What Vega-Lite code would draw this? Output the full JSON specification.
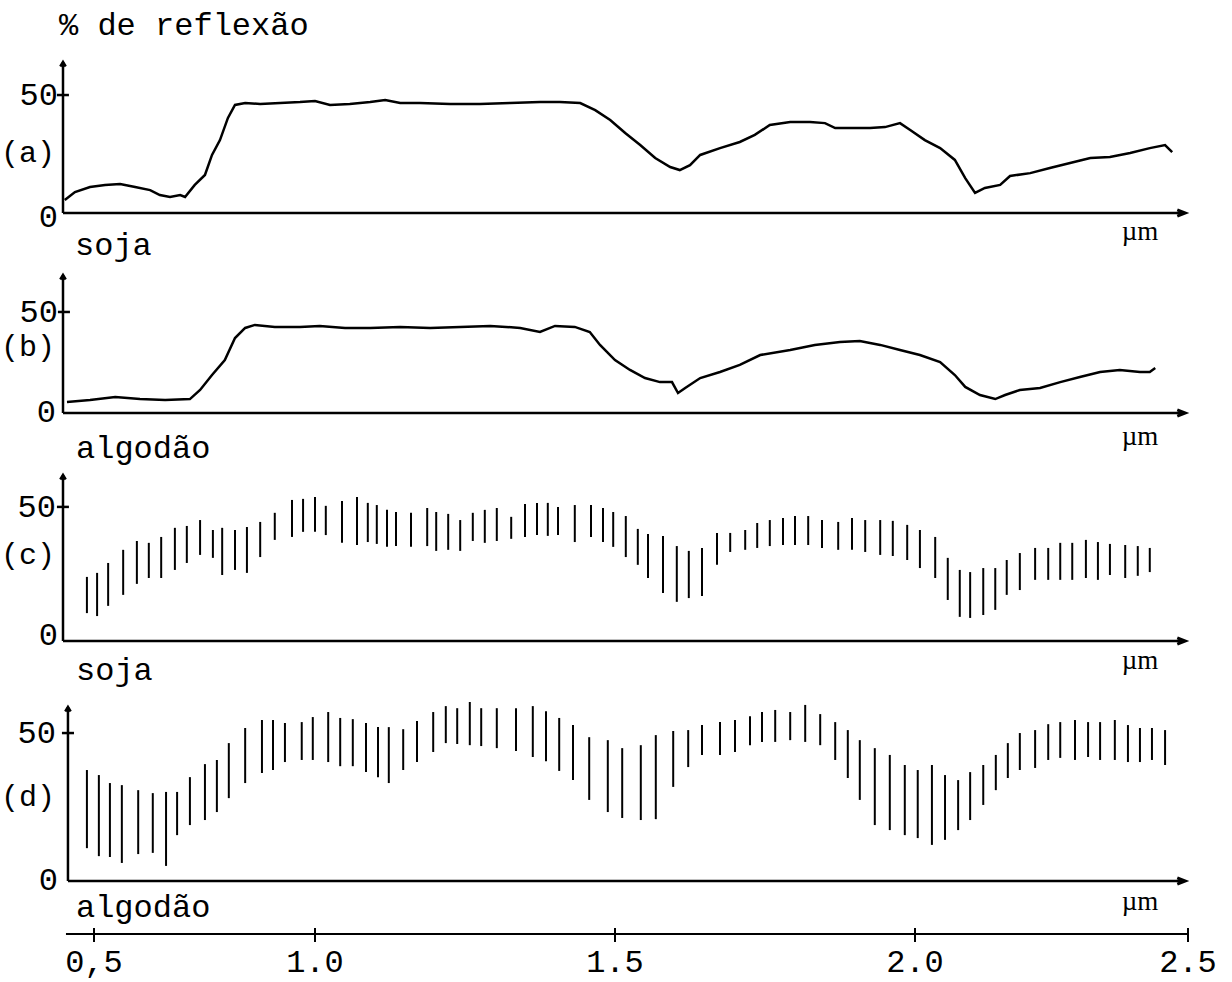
{
"$schema": "https://vega.github.io/schema/vega-lite/v6.json",
"width": 1232, "height": 982,
"autosize": {"type": "none"},
"padding": 0,
"background": "white",
"config": {"view": {"stroke": null}, "text": {"font": "Liberation Mono", "fontSize": 32, "color": "black", "baseline": "middle"}, "rule": {"color": "black"}},
"datasets": {
"a": [{"x":0.434,"r":5.5},{"x":0.457,"r":8.9},{"x":0.491,"r":11.0},{"x":0.525,"r":11.9},{"x":0.559,"r":12.3},{"x":0.593,"r":11.0},{"x":0.627,"r":9.7},{"x":0.649,"r":7.6},{"x":0.672,"r":6.8},{"x":0.695,"r":7.6},{"x":0.706,"r":6.8},{"x":0.728,"r":11.9},{"x":0.751,"r":16.1},{"x":0.767,"r":24.6},{"x":0.785,"r":30.9},{"x":0.803,"r":40.3},{"x":0.819,"r":45.8},{"x":0.842,"r":46.6},{"x":0.876,"r":46.2},{"x":0.921,"r":46.6},{"x":0.966,"r":47.0},{"x":1.0,"r":47.5},{"x":1.025,"r":45.8},{"x":1.058,"r":46.2},{"x":1.092,"r":47.0},{"x":1.117,"r":47.9},{"x":1.142,"r":46.6},{"x":1.175,"r":46.6},{"x":1.225,"r":46.2},{"x":1.275,"r":46.2},{"x":1.325,"r":46.6},{"x":1.375,"r":47.0},{"x":1.408,"r":47.0},{"x":1.442,"r":46.6},{"x":1.467,"r":43.6},{"x":1.492,"r":39.4},{"x":1.517,"r":33.9},{"x":1.542,"r":28.8},{"x":1.567,"r":23.3},{"x":1.592,"r":19.5},{"x":1.608,"r":18.2},{"x":1.625,"r":20.3},{"x":1.642,"r":24.6},{"x":1.675,"r":27.5},{"x":1.708,"r":30.1},{"x":1.733,"r":33.1},{"x":1.758,"r":37.3},{"x":1.792,"r":38.6},{"x":1.825,"r":38.6},{"x":1.85,"r":38.1},{"x":1.867,"r":36.0},{"x":1.892,"r":36.0},{"x":1.925,"r":36.0},{"x":1.95,"r":36.4},{"x":1.975,"r":38.1},{"x":1.992,"r":35.2},{"x":2.018,"r":30.9},{"x":2.046,"r":27.5},{"x":2.073,"r":22.5},{"x":2.092,"r":14.8},{"x":2.11,"r":8.5},{"x":2.128,"r":10.6},{"x":2.156,"r":11.9},{"x":2.174,"r":15.7},{"x":2.211,"r":16.9},{"x":2.247,"r":19.1},{"x":2.284,"r":21.2},{"x":2.321,"r":23.3},{"x":2.357,"r":23.7},{"x":2.394,"r":25.4},{"x":2.43,"r":27.5},{"x":2.458,"r":28.8},{"x":2.471,"r":25.8}],
"b": [{"x":0.439,"r":5.4},{"x":0.491,"r":6.4},{"x":0.548,"r":7.9},{"x":0.604,"r":6.9},{"x":0.661,"r":6.4},{"x":0.717,"r":6.9},{"x":0.74,"r":11.4},{"x":0.767,"r":18.8},{"x":0.796,"r":26.2},{"x":0.819,"r":37.1},{"x":0.842,"r":42.1},{"x":0.864,"r":43.6},{"x":0.909,"r":42.6},{"x":0.966,"r":42.6},{"x":1.008,"r":43.1},{"x":1.05,"r":42.1},{"x":1.092,"r":42.1},{"x":1.142,"r":42.6},{"x":1.192,"r":42.1},{"x":1.242,"r":42.6},{"x":1.292,"r":43.1},{"x":1.342,"r":42.1},{"x":1.375,"r":40.1},{"x":1.4,"r":43.1},{"x":1.433,"r":42.6},{"x":1.458,"r":40.1},{"x":1.475,"r":33.7},{"x":1.5,"r":26.2},{"x":1.525,"r":21.3},{"x":1.55,"r":17.3},{"x":1.575,"r":15.3},{"x":1.595,"r":15.3},{"x":1.605,"r":9.9},{"x":1.617,"r":12.4},{"x":1.642,"r":17.3},{"x":1.675,"r":20.3},{"x":1.708,"r":23.8},{"x":1.742,"r":28.7},{"x":1.792,"r":31.2},{"x":1.833,"r":33.7},{"x":1.875,"r":35.1},{"x":1.908,"r":35.6},{"x":1.942,"r":33.7},{"x":1.975,"r":31.2},{"x":2.009,"r":28.7},{"x":2.046,"r":25.2},{"x":2.073,"r":18.8},{"x":2.092,"r":12.9},{"x":2.119,"r":8.9},{"x":2.147,"r":6.9},{"x":2.165,"r":8.9},{"x":2.192,"r":11.4},{"x":2.229,"r":12.4},{"x":2.266,"r":15.3},{"x":2.302,"r":17.8},{"x":2.339,"r":20.3},{"x":2.375,"r":21.3},{"x":2.412,"r":20.3},{"x":2.43,"r":20.3},{"x":2.44,"r":22.3}],
"c": [{"x":0.484,"lo":10.4,"hi":23.9},{"x":0.507,"lo":9.3,"hi":25.4},{"x":0.532,"lo":13.1,"hi":29.1},{"x":0.566,"lo":17.2,"hi":34.0},{"x":0.597,"lo":21.3,"hi":37.3},{"x":0.624,"lo":23.5,"hi":36.6},{"x":0.652,"lo":23.5,"hi":38.8},{"x":0.683,"lo":26.5,"hi":42.2},{"x":0.71,"lo":29.1,"hi":42.9},{"x":0.74,"lo":32.1,"hi":45.1},{"x":0.769,"lo":31.0,"hi":41.4},{"x":0.79,"lo":24.6,"hi":42.2},{"x":0.819,"lo":26.5,"hi":41.4},{"x":0.846,"lo":25.4,"hi":42.5},{"x":0.876,"lo":31.3,"hi":44.4},{"x":0.909,"lo":37.7,"hi":47.8},{"x":0.948,"lo":38.8,"hi":52.6},{"x":0.973,"lo":40.7,"hi":53.0},{"x":1.0,"lo":40.7,"hi":53.7},{"x":1.018,"lo":39.5,"hi":50.4},{"x":1.045,"lo":36.6,"hi":52.2},{"x":1.07,"lo":35.8,"hi":53.7},{"x":1.088,"lo":36.9,"hi":51.5},{"x":1.103,"lo":36.2,"hi":50.7},{"x":1.12,"lo":35.1,"hi":48.9},{"x":1.135,"lo":35.4,"hi":48.1},{"x":1.16,"lo":35.1,"hi":47.8},{"x":1.187,"lo":35.4,"hi":49.6},{"x":1.202,"lo":33.6,"hi":48.1},{"x":1.222,"lo":34.0,"hi":47.4},{"x":1.242,"lo":33.6,"hi":45.1},{"x":1.263,"lo":37.3,"hi":47.8},{"x":1.283,"lo":36.6,"hi":48.9},{"x":1.303,"lo":37.3,"hi":49.6},{"x":1.327,"lo":38.1,"hi":46.3},{"x":1.35,"lo":38.8,"hi":51.1},{"x":1.37,"lo":39.5,"hi":51.5},{"x":1.388,"lo":39.2,"hi":51.5},{"x":1.405,"lo":39.5,"hi":50.0},{"x":1.433,"lo":36.9,"hi":50.7},{"x":1.46,"lo":38.8,"hi":50.7},{"x":1.48,"lo":36.9,"hi":49.6},{"x":1.497,"lo":35.1,"hi":48.1},{"x":1.518,"lo":31.3,"hi":46.6},{"x":1.538,"lo":28.4,"hi":41.8},{"x":1.555,"lo":23.5,"hi":39.9},{"x":1.58,"lo":17.9,"hi":39.2},{"x":1.603,"lo":14.6,"hi":35.4},{"x":1.623,"lo":16.0,"hi":33.6},{"x":1.645,"lo":16.8,"hi":34.7},{"x":1.67,"lo":28.4,"hi":40.3},{"x":1.692,"lo":33.2,"hi":40.3},{"x":1.717,"lo":34.0,"hi":41.4},{"x":1.737,"lo":34.7,"hi":44.0},{"x":1.758,"lo":35.4,"hi":45.1},{"x":1.78,"lo":35.8,"hi":45.9},{"x":1.8,"lo":35.8,"hi":46.6},{"x":1.822,"lo":35.8,"hi":46.6},{"x":1.845,"lo":34.7,"hi":45.1},{"x":1.872,"lo":34.0,"hi":44.4},{"x":1.895,"lo":34.0,"hi":45.9},{"x":1.917,"lo":33.2,"hi":45.1},{"x":1.942,"lo":32.1,"hi":45.1},{"x":1.963,"lo":31.7,"hi":44.8},{"x":1.987,"lo":30.2,"hi":43.3},{"x":2.009,"lo":27.2,"hi":41.4},{"x":2.037,"lo":23.5,"hi":38.8},{"x":2.06,"lo":15.3,"hi":31.0},{"x":2.082,"lo":9.0,"hi":26.5},{"x":2.101,"lo":8.6,"hi":25.7},{"x":2.125,"lo":9.7,"hi":27.2},{"x":2.147,"lo":11.6,"hi":27.2},{"x":2.168,"lo":17.2,"hi":30.2},{"x":2.192,"lo":19.0,"hi":32.8},{"x":2.22,"lo":22.8,"hi":34.7},{"x":2.244,"lo":22.8,"hi":34.7},{"x":2.266,"lo":22.8,"hi":36.6},{"x":2.288,"lo":22.8,"hi":36.6},{"x":2.313,"lo":23.5,"hi":37.7},{"x":2.335,"lo":22.8,"hi":36.9},{"x":2.357,"lo":24.6,"hi":36.2},{"x":2.385,"lo":23.5,"hi":35.8},{"x":2.408,"lo":24.3,"hi":35.4},{"x":2.43,"lo":25.7,"hi":34.7}],
"d": [{"x":0.484,"lo":11.1,"hi":37.5},{"x":0.511,"lo":8.4,"hi":35.8},{"x":0.536,"lo":8.1,"hi":33.1},{"x":0.563,"lo":6.1,"hi":32.4},{"x":0.6,"lo":9.1,"hi":30.7},{"x":0.633,"lo":9.5,"hi":29.7},{"x":0.663,"lo":5.1,"hi":30.1},{"x":0.688,"lo":15.5,"hi":30.1},{"x":0.717,"lo":18.9,"hi":35.1},{"x":0.751,"lo":20.6,"hi":39.5},{"x":0.778,"lo":23.3,"hi":40.9},{"x":0.805,"lo":28.0,"hi":46.6},{"x":0.842,"lo":33.1,"hi":51.7},{"x":0.88,"lo":36.5,"hi":54.4},{"x":0.905,"lo":37.5,"hi":54.4},{"x":0.932,"lo":40.2,"hi":53.4},{"x":0.97,"lo":40.9,"hi":53.7},{"x":0.995,"lo":40.9,"hi":55.4},{"x":1.022,"lo":40.2,"hi":57.1},{"x":1.042,"lo":38.8,"hi":55.1},{"x":1.063,"lo":38.8,"hi":54.7},{"x":1.085,"lo":36.8,"hi":53.4},{"x":1.105,"lo":35.1,"hi":52.0},{"x":1.123,"lo":33.1,"hi":52.0},{"x":1.147,"lo":37.5,"hi":51.3},{"x":1.17,"lo":40.2,"hi":54.1},{"x":1.197,"lo":43.6,"hi":57.1},{"x":1.218,"lo":46.6,"hi":59.1},{"x":1.237,"lo":46.3,"hi":58.4},{"x":1.258,"lo":45.9,"hi":60.5},{"x":1.277,"lo":45.6,"hi":58.4},{"x":1.303,"lo":44.9,"hi":58.4},{"x":1.335,"lo":43.9,"hi":58.4},{"x":1.363,"lo":41.9,"hi":59.1},{"x":1.385,"lo":40.5,"hi":57.4},{"x":1.407,"lo":37.2,"hi":55.1},{"x":1.43,"lo":34.1,"hi":52.7},{"x":1.457,"lo":27.4,"hi":48.6},{"x":1.488,"lo":23.3,"hi":47.6},{"x":1.512,"lo":21.3,"hi":44.9},{"x":1.543,"lo":20.6,"hi":45.9},{"x":1.568,"lo":20.9,"hi":49.3},{"x":1.597,"lo":31.8,"hi":50.7},{"x":1.622,"lo":38.5,"hi":51.0},{"x":1.645,"lo":42.6,"hi":52.7},{"x":1.675,"lo":42.6,"hi":53.7},{"x":1.7,"lo":43.6,"hi":54.4},{"x":1.725,"lo":45.9,"hi":55.7},{"x":1.745,"lo":47.0,"hi":57.1},{"x":1.767,"lo":47.0,"hi":57.8},{"x":1.792,"lo":47.6,"hi":57.1},{"x":1.817,"lo":47.0,"hi":59.5},{"x":1.842,"lo":45.9,"hi":56.4},{"x":1.867,"lo":40.9,"hi":53.7},{"x":1.888,"lo":34.8,"hi":51.0},{"x":1.908,"lo":27.4,"hi":47.6},{"x":1.933,"lo":18.9,"hi":44.9},{"x":1.958,"lo":17.2,"hi":42.6},{"x":1.983,"lo":15.5,"hi":39.2},{"x":2.005,"lo":14.5,"hi":37.5},{"x":2.031,"lo":12.2,"hi":39.2},{"x":2.055,"lo":13.9,"hi":35.8},{"x":2.079,"lo":17.2,"hi":34.1},{"x":2.101,"lo":20.6,"hi":36.8},{"x":2.125,"lo":25.7,"hi":39.2},{"x":2.148,"lo":30.7,"hi":42.6},{"x":2.17,"lo":34.8,"hi":46.6},{"x":2.192,"lo":37.5,"hi":50.0},{"x":2.22,"lo":38.2,"hi":51.0},{"x":2.244,"lo":40.9,"hi":53.0},{"x":2.266,"lo":41.6,"hi":53.7},{"x":2.293,"lo":40.9,"hi":54.4},{"x":2.317,"lo":41.9,"hi":53.7},{"x":2.339,"lo":40.9,"hi":53.7},{"x":2.366,"lo":40.9,"hi":54.4},{"x":2.39,"lo":40.2,"hi":52.7},{"x":2.412,"lo":40.2,"hi":51.7},{"x":2.434,"lo":40.9,"hi":51.7},{"x":2.458,"lo":39.2,"hi":51.0}],
"ticks": [{"v":0.5,"label":"0,5"},{"v":1.0,"label":"1.0"},{"v":1.5,"label":"1.5"},{"v":2.0,"label":"2.0"},{"v":2.5,"label":"2.5"}]
},
"resolve": {"scale": {"y": "independent"}},
"layer": [
{
"layer": [
{"data": {"name": "a"}, "mark": {"type": "line", "color": "black", "strokeWidth": 2.5},
 "encoding": {
  "x": {"field": "x", "type": "quantitative", "scale": {"type": "linear", "domain": [0.43, 0.5, 1.0, 1.5, 2.0, 2.5], "range": [63, 94, 315, 615, 915, 1188], "nice": false, "zero": false}, "axis": null},
  "y": {"field": "r", "type": "quantitative", "scale": {"domain": [0, 64], "range": [213, 62], "nice": false, "zero": false}, "axis": null}
 }},
{"data": {"values": [{}]}, "mark": {"type": "rule", "strokeWidth": 2.5},
 "encoding": {"x": {"datum": 0.43, "type": "quantitative", "axis": null}, "x2": {"datum": 2.49}, "y": {"datum": 0, "type": "quantitative", "axis": null}}},
{"data": {"values": [{}]}, "mark": {"type": "rule", "strokeWidth": 2.5},
 "encoding": {"x": {"datum": 0.43, "type": "quantitative", "axis": null}, "y": {"datum": 0, "type": "quantitative", "axis": null}, "y2": {"datum": 64}}},
{"data": {"values": [{}]}, "mark": {"type": "rule", "strokeWidth": 2.5},
 "encoding": {"x": {"datum": 0.4163, "type": "quantitative", "axis": null}, "x2": {"datum": 0.4434}, "y": {"datum": 50, "type": "quantitative", "axis": null}}},
{"data": {"values": [{}]}, "mark": {"type": "point", "shape": "M-1,-0.4L0,0L-1,0.4", "filled": false, "stroke": "black", "strokeWidth": 3, "size": 256, "opacity": 1},
 "encoding": {"x": {"datum": 2.495, "type": "quantitative", "axis": null}, "y": {"datum": 0, "type": "quantitative", "axis": null}}},
{"data": {"values": [{}]}, "mark": {"type": "point", "shape": "M-0.6,1L0,0L0.6,1", "filled": false, "stroke": "black", "strokeWidth": 2.5, "size": 81, "opacity": 1},
 "encoding": {"x": {"datum": 0.43, "type": "quantitative", "axis": null}, "y": {"datum": 64, "type": "quantitative", "axis": null}}},
{"data": {"values": [{}]}, "mark": {"type": "text", "align": "right", "dx": -5},
 "encoding": {"x": {"datum": 0.43, "type": "quantitative", "axis": null}, "y": {"datum": 50, "type": "quantitative", "axis": null}, "text": {"value": "50"}}},
{"data": {"values": [{}]}, "mark": {"type": "text", "align": "right", "dx": -5},
 "encoding": {"x": {"datum": 0.43, "type": "quantitative", "axis": null}, "y": {"datum": -1.5, "type": "quantitative", "axis": null}, "text": {"value": "0"}}},
{"data": {"values": [{}]}, "mark": {"type": "text", "align": "left", "dx": -4},
 "encoding": {"x": {"datum": 0.43, "type": "quantitative", "axis": null}, "y": {"datum": 79.7, "type": "quantitative", "axis": null}, "text": {"value": "% de reflexão"}}},
{"data": {"values": [{}]}, "mark": {"type": "text", "align": "right", "dx": -8, "fontSize": 30},
 "encoding": {"x": {"datum": 0.43, "type": "quantitative", "axis": null}, "y": {"datum": 25.4, "type": "quantitative", "axis": null}, "text": {"value": "(a)"}}},
{"data": {"values": [{}]}, "mark": {"type": "text", "align": "left", "dx": 12},
 "encoding": {"x": {"datum": 0.43, "type": "quantitative", "axis": null}, "y": {"datum": -13.6, "type": "quantitative", "axis": null}, "text": {"value": "soja"}}},
{"data": {"values": [{}]}, "mark": {"type": "text", "align": "center", "font": "Liberation Serif", "fontSize": 27},
 "encoding": {"x": {"datum": 2.412, "type": "quantitative", "axis": null}, "y": {"datum": -8.1, "type": "quantitative", "axis": null}, "text": {"value": "µm"}}}
]
},
{
"layer": [
{"data": {"name": "b"}, "mark": {"type": "line", "color": "black", "strokeWidth": 2.5},
 "encoding": {
  "x": {"field": "x", "type": "quantitative", "axis": null},
  "y": {"field": "r", "type": "quantitative", "scale": {"domain": [0, 68.3], "range": [413, 275], "nice": false, "zero": false}, "axis": null}
 }},
{"data": {"values": [{}]}, "mark": {"type": "rule", "strokeWidth": 2.5},
 "encoding": {"x": {"datum": 0.43, "type": "quantitative", "axis": null}, "x2": {"datum": 2.49}, "y": {"datum": 0, "type": "quantitative", "axis": null}}},
{"data": {"values": [{}]}, "mark": {"type": "rule", "strokeWidth": 2.5},
 "encoding": {"x": {"datum": 0.43, "type": "quantitative", "axis": null}, "y": {"datum": 0, "type": "quantitative", "axis": null}, "y2": {"datum": 68.3}}},
{"data": {"values": [{}]}, "mark": {"type": "rule", "strokeWidth": 2.5},
 "encoding": {"x": {"datum": 0.4185, "type": "quantitative", "axis": null}, "x2": {"datum": 0.4457}, "y": {"datum": 50, "type": "quantitative", "axis": null}}},
{"data": {"values": [{}]}, "mark": {"type": "point", "shape": "M-1,-0.4L0,0L-1,0.4", "filled": false, "stroke": "black", "strokeWidth": 3, "size": 256, "opacity": 1},
 "encoding": {"x": {"datum": 2.495, "type": "quantitative", "axis": null}, "y": {"datum": 0, "type": "quantitative", "axis": null}}},
{"data": {"values": [{}]}, "mark": {"type": "point", "shape": "M-0.6,1L0,0L0.6,1", "filled": false, "stroke": "black", "strokeWidth": 2.5, "size": 81, "opacity": 1},
 "encoding": {"x": {"datum": 0.43, "type": "quantitative", "axis": null}, "y": {"datum": 68.3, "type": "quantitative", "axis": null}}},
{"data": {"values": [{}]}, "mark": {"type": "text", "align": "right", "dx": -5},
 "encoding": {"x": {"datum": 0.43, "type": "quantitative", "axis": null}, "y": {"datum": 50, "type": "quantitative", "axis": null}, "text": {"value": "50"}}},
{"data": {"values": [{}]}, "mark": {"type": "text", "align": "right", "dx": -7},
 "encoding": {"x": {"datum": 0.43, "type": "quantitative", "axis": null}, "y": {"datum": 0.5, "type": "quantitative", "axis": null}, "text": {"value": "0"}}},
{"data": {"values": [{}]}, "mark": {"type": "text", "align": "right", "dx": -8, "fontSize": 30},
 "encoding": {"x": {"datum": 0.43, "type": "quantitative", "axis": null}, "y": {"datum": 32.7, "type": "quantitative", "axis": null}, "text": {"value": "(b)"}}},
{"data": {"values": [{}]}, "mark": {"type": "text", "align": "left", "dx": 13},
 "encoding": {"x": {"datum": 0.43, "type": "quantitative", "axis": null}, "y": {"datum": -17.3, "type": "quantitative", "axis": null}, "text": {"value": "algodão"}}},
{"data": {"values": [{}]}, "mark": {"type": "text", "align": "center", "font": "Liberation Serif", "fontSize": 27},
 "encoding": {"x": {"datum": 2.412, "type": "quantitative", "axis": null}, "y": {"datum": -11.9, "type": "quantitative", "axis": null}, "text": {"value": "µm"}}}
]
},
{
"layer": [
{"data": {"name": "c"}, "mark": {"type": "rule", "color": "black", "strokeWidth": 2},
 "encoding": {
  "x": {"field": "x", "type": "quantitative", "axis": null},
  "y": {"field": "lo", "type": "quantitative", "scale": {"domain": [0, 61.9], "range": [641, 475], "nice": false, "zero": false}, "axis": null},
  "y2": {"field": "hi"}
 }},
{"data": {"values": [{}]}, "mark": {"type": "rule", "strokeWidth": 2.5},
 "encoding": {"x": {"datum": 0.43, "type": "quantitative", "axis": null}, "x2": {"datum": 2.49}, "y": {"datum": 0, "type": "quantitative", "axis": null}}},
{"data": {"values": [{}]}, "mark": {"type": "rule", "strokeWidth": 2.5},
 "encoding": {"x": {"datum": 0.43, "type": "quantitative", "axis": null}, "y": {"datum": 0, "type": "quantitative", "axis": null}, "y2": {"datum": 61.9}}},
{"data": {"values": [{}]}, "mark": {"type": "rule", "strokeWidth": 2.5},
 "encoding": {"x": {"datum": 0.4163, "type": "quantitative", "axis": null}, "x2": {"datum": 0.4434}, "y": {"datum": 50, "type": "quantitative", "axis": null}}},
{"data": {"values": [{}]}, "mark": {"type": "point", "shape": "M-1,-0.4L0,0L-1,0.4", "filled": false, "stroke": "black", "strokeWidth": 3, "size": 256, "opacity": 1},
 "encoding": {"x": {"datum": 2.495, "type": "quantitative", "axis": null}, "y": {"datum": 0, "type": "quantitative", "axis": null}}},
{"data": {"values": [{}]}, "mark": {"type": "point", "shape": "M-0.6,1L0,0L0.6,1", "filled": false, "stroke": "black", "strokeWidth": 2.5, "size": 81, "opacity": 1},
 "encoding": {"x": {"datum": 0.43, "type": "quantitative", "axis": null}, "y": {"datum": 61.9, "type": "quantitative", "axis": null}}},
{"data": {"values": [{}]}, "mark": {"type": "text", "align": "right", "dx": -7},
 "encoding": {"x": {"datum": 0.43, "type": "quantitative", "axis": null}, "y": {"datum": 50, "type": "quantitative", "axis": null}, "text": {"value": "50"}}},
{"data": {"values": [{}]}, "mark": {"type": "text", "align": "right", "dx": -5},
 "encoding": {"x": {"datum": 0.43, "type": "quantitative", "axis": null}, "y": {"datum": 2.2, "type": "quantitative", "axis": null}, "text": {"value": "0"}}},
{"data": {"values": [{}]}, "mark": {"type": "text", "align": "right", "dx": -8, "fontSize": 30},
 "encoding": {"x": {"datum": 0.43, "type": "quantitative", "axis": null}, "y": {"datum": 32.1, "type": "quantitative", "axis": null}, "text": {"value": "(c)"}}},
{"data": {"values": [{}]}, "mark": {"type": "text", "align": "left", "dx": 13},
 "encoding": {"x": {"datum": 0.43, "type": "quantitative", "axis": null}, "y": {"datum": -10.8, "type": "quantitative", "axis": null}, "text": {"value": "soja"}}},
{"data": {"values": [{}]}, "mark": {"type": "text", "align": "center", "font": "Liberation Serif", "fontSize": 27},
 "encoding": {"x": {"datum": 2.412, "type": "quantitative", "axis": null}, "y": {"datum": -7.5, "type": "quantitative", "axis": null}, "text": {"value": "µm"}}}
]
},
{
"layer": [
{"data": {"name": "d"}, "mark": {"type": "rule", "color": "black", "strokeWidth": 2},
 "encoding": {
  "x": {"field": "x", "type": "quantitative", "axis": null},
  "y": {"field": "lo", "type": "quantitative", "scale": {"domain": [0, 58.8], "range": [881, 707], "nice": false, "zero": false}, "axis": null},
  "y2": {"field": "hi"}
 }},
{"data": {"values": [{}]}, "mark": {"type": "rule", "strokeWidth": 2.5},
 "encoding": {"x": {"datum": 0.4412, "type": "quantitative", "axis": null}, "x2": {"datum": 2.49}, "y": {"datum": 0, "type": "quantitative", "axis": null}}},
{"data": {"values": [{}]}, "mark": {"type": "rule", "strokeWidth": 2.5},
 "encoding": {"x": {"datum": 0.4412, "type": "quantitative", "axis": null}, "y": {"datum": 0, "type": "quantitative", "axis": null}, "y2": {"datum": 58.8}}},
{"data": {"values": [{}]}, "mark": {"type": "rule", "strokeWidth": 2.5},
 "encoding": {"x": {"datum": 0.4276, "type": "quantitative", "axis": null}, "x2": {"datum": 0.4548}, "y": {"datum": 50, "type": "quantitative", "axis": null}}},
{"data": {"values": [{}]}, "mark": {"type": "point", "shape": "M-1,-0.4L0,0L-1,0.4", "filled": false, "stroke": "black", "strokeWidth": 3, "size": 256, "opacity": 1},
 "encoding": {"x": {"datum": 2.495, "type": "quantitative", "axis": null}, "y": {"datum": 0, "type": "quantitative", "axis": null}}},
{"data": {"values": [{}]}, "mark": {"type": "point", "shape": "M-0.6,1L0,0L0.6,1", "filled": false, "stroke": "black", "strokeWidth": 2.5, "size": 81, "opacity": 1},
 "encoding": {"x": {"datum": 0.4412, "type": "quantitative", "axis": null}, "y": {"datum": 58.8, "type": "quantitative", "axis": null}}},
{"data": {"values": [{}]}, "mark": {"type": "text", "align": "right", "dx": -12},
 "encoding": {"x": {"datum": 0.4412, "type": "quantitative", "axis": null}, "y": {"datum": 50, "type": "quantitative", "axis": null}, "text": {"value": "50"}}},
{"data": {"values": [{}]}, "mark": {"type": "text", "align": "right", "dx": -10},
 "encoding": {"x": {"datum": 0.4412, "type": "quantitative", "axis": null}, "y": {"datum": 0.3, "type": "quantitative", "axis": null}, "text": {"value": "0"}}},
{"data": {"values": [{}]}, "mark": {"type": "text", "align": "right", "dx": -13, "fontSize": 30},
 "encoding": {"x": {"datum": 0.4412, "type": "quantitative", "axis": null}, "y": {"datum": 28.4, "type": "quantitative", "axis": null}, "text": {"value": "(d)"}}},
{"data": {"values": [{}]}, "mark": {"type": "text", "align": "left", "dx": 8},
 "encoding": {"x": {"datum": 0.4412, "type": "quantitative", "axis": null}, "y": {"datum": -8.8, "type": "quantitative", "axis": null}, "text": {"value": "algodão"}}},
{"data": {"values": [{}]}, "mark": {"type": "text", "align": "center", "font": "Liberation Serif", "fontSize": 27},
 "encoding": {"x": {"datum": 2.412, "type": "quantitative", "axis": null}, "y": {"datum": -7.1, "type": "quantitative", "axis": null}, "text": {"value": "µm"}}},
{"data": {"values": [{}]}, "mark": {"type": "rule", "strokeWidth": 2},
 "encoding": {"x": {"datum": 0.4367, "type": "quantitative", "axis": null}, "x2": {"datum": 2.5}, "y": {"datum": -17.9, "type": "quantitative", "axis": null}}},
{"data": {"name": "ticks"}, "mark": {"type": "rule", "strokeWidth": 2},
 "encoding": {"x": {"field": "v", "type": "quantitative", "axis": null}, "y": {"datum": -15.9, "type": "quantitative", "axis": null}, "y2": {"datum": -20.6}}},
{"data": {"name": "ticks"}, "mark": {"type": "text", "align": "center"},
 "encoding": {"x": {"field": "v", "type": "quantitative", "axis": null}, "y": {"datum": -27.4, "type": "quantitative", "axis": null}, "text": {"field": "label"}}}
]
}
]
}
